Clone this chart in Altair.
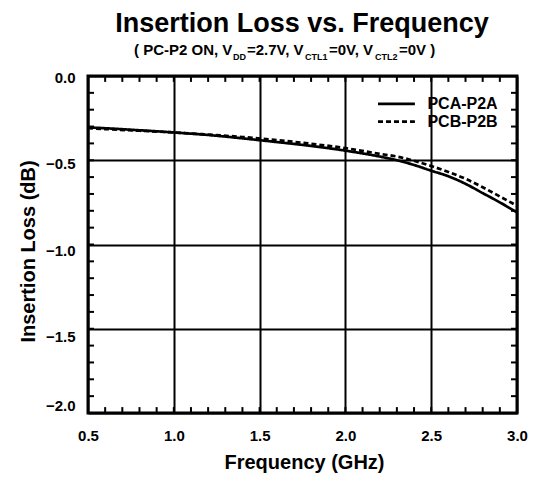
import altair as alt
import pandas as pd

FONT = "Liberation Sans"

# ---- data ----
freq = [0.5, 0.6, 0.8, 1.0, 1.2, 1.4, 1.6, 1.8, 2.0, 2.2, 2.3, 2.4, 2.5, 2.6, 2.7, 2.8, 2.9, 3.0]
pca_p2a = [-0.305, -0.31, -0.322, -0.335, -0.35, -0.37, -0.392, -0.415, -0.443, -0.478,
           -0.50, -0.528, -0.562, -0.595, -0.64, -0.695, -0.75, -0.81]
pcb_p2b = [-0.31, -0.315, -0.325, -0.335, -0.348, -0.362, -0.38, -0.402, -0.428, -0.462,
           -0.478, -0.503, -0.534, -0.57, -0.61, -0.66, -0.715, -0.77]
series = ["PCA-P2A", "PCB-P2B"]
x_ticks = [0.5, 1.0, 1.5, 2.0, 2.5, 3.0]
y_ticks = [0.0, -0.5, -1.0, -1.5, -2.0]
x_minor = [round(0.5 + 0.1 * i, 1) for i in range(26)]
y_minor = [round(-0.1 * i, 1) for i in range(21)]

df = pd.DataFrame({
    "freq": freq * 2,
    "loss": pca_p2a + pcb_p2b,
    "series": [series[0]] * len(freq) + [series[1]] * len(freq),
})

W, H = 429, 337
xs = alt.Scale(domain=[0.5, 3.0], nice=False, zero=False)
ys = alt.Scale(domain=[-2.0, 0.0], nice=False, zero=False)

lines = alt.Chart(df).mark_line(color="black", strokeWidth=2.7, interpolate="monotone").encode(
    x=alt.X("freq:Q", scale=xs, axis=alt.Axis(
        values=x_ticks, format=".1f", title="Frequency (GHz)",
        titleX=216, titleY=55, titleBaseline="alphabetic", titleAnchor="middle",
        labelPadding=15, labelFlush=False)),
    y=alt.Y("loss:Q", scale=ys, axis=alt.Axis(
        values=y_ticks, format=".1f", title="Insertion Loss (dB)",
        titleX=-54, titleY=175, titleBaseline="alphabetic", titleAngle=-90,
        labelPadding=13, labelBaseline="middle", labelFlush=False,
        labelOffset={"expr": "datum.value <= -2 ? -8 : 1 - 4.6 * datum.value"})),
    strokeDash=alt.StrokeDash("series:N", scale=alt.Scale(domain=series, range=[[1, 0], [5, 3]]),
                              legend=None),
    detail="series:N",
)

# minor ticks (inward, all four sides)
dfx = pd.DataFrame({"v": x_minor})
dfy = pd.DataFrame({"v": y_minor})
tick_style = dict(color="black", strokeWidth=2)
tb = alt.Chart(dfx).mark_rule(**tick_style).encode(x=alt.X("v:Q", scale=xs), y=alt.datum(-2.0), y2=alt.datum(-1.965))
tt = alt.Chart(dfx).mark_rule(**tick_style).encode(x=alt.X("v:Q", scale=xs), y=alt.datum(0.0), y2=alt.datum(-0.035))
tl = alt.Chart(dfy).mark_rule(**tick_style).encode(y=alt.Y("v:Q", scale=ys), x=alt.datum(0.5), x2=alt.datum(0.535))
tr = alt.Chart(dfy).mark_rule(**tick_style).encode(y=alt.Y("v:Q", scale=ys), x=alt.datum(3.0), x2=alt.datum(2.965))

# legend (drawn in data space)
one = pd.DataFrame({"a": [0]})
leg_y = [-0.166, -0.271]
leg = []
for name, ly, dash in zip(series, leg_y, [[1, 0], [5, 3]]):
    leg.append(alt.Chart(one).mark_rule(color="black", strokeWidth=2.7, strokeDash=dash).encode(
        x=alt.datum(2.19), x2=alt.datum(2.405), y=alt.datum(ly)))
    leg.append(alt.Chart(one).mark_text(text=name, align="left", baseline="middle", font=FONT,
                                        fontWeight="bold", fontSize=16, color="black").encode(
        x=alt.datum(2.478), y=alt.datum(ly)))

# title and subtitle with subscripts
def txt(s, px, py, size, align="left"):
    return alt.Chart(one).mark_text(text=s, align=align, baseline="alphabetic", font=FONT,
                                    fontWeight="bold", fontSize=size, color="black").encode(
        x=alt.value(px - 88), y=alt.value(py - 76))

texts = [
    txt("Insertion Loss vs. Frequency", 302, 32, 27, align="center"),
    txt("( PC-P2 ON, V", 134, 55, 15),
    txt("DD", 233, 60, 9),
    txt("=2.7V, V", 247, 55, 15),
    txt("CTL1", 305, 60, 9),
    txt("=0V, V", 329, 55, 15),
    txt("CTL2", 375, 60, 9),
    txt("=0V )", 399, 55, 15),
]

chart = alt.layer(lines, tb, tt, tl, tr, *leg, *texts).properties(
    width=W, height=H,
    autosize=alt.AutoSizeParams(type="none"),
    padding={"left": 80, "top": 68, "right": 12, "bottom": 60},
    background="white",
).configure_view(
    stroke="black", strokeWidth=3,
).configure_axis(
    grid=True, gridColor="black", gridWidth=2, gridOpacity=1,
    domain=False, ticks=False, tickSize=0,
    labelFont=FONT, labelFontWeight="bold", labelFontSize=15, labelColor="black",
    titleFont=FONT, titleFontWeight="bold", titleFontSize=20, titleColor="black",
)

chart.save("out.html", embed_options={"renderer": "svg", "actions": False})
